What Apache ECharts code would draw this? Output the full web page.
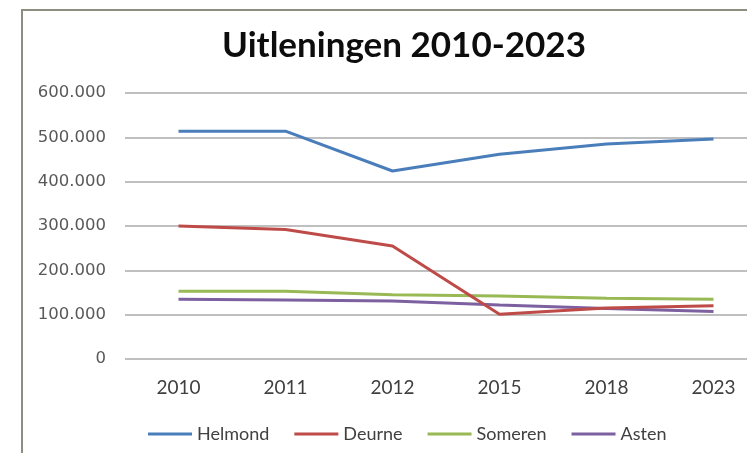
<!DOCTYPE html>
<html><head><meta charset="utf-8">
<script src="https://cdn.jsdelivr.net/npm/echarts@6/dist/echarts.min.js"></script>
<style>html,body{margin:0;padding:0;background:#fff}#c{width:747px;height:453px}</style>
</head><body><div id="c"></div>
<script>
const categories = ['2010','2011','2012','2015','2018','2023'];
const helmond = [514000, 514000, 424000, 462000, 485000, 496000];
const deurne  = [300000, 292000, 255000, 101000, 115000, 120000];
const someren = [153000, 153000, 145000, 142000, 137000, 135000];
const asten   = [135000, 133000, 131000, 122000, 114000, 107000];
const seriesNames = ['Helmond','Deurne','Someren','Asten'];
const colors = ['#4a7ebb','#be4b48','#98b954','#7d60a0'];
const yTicks = {min:0, max:600000, interval:100000};

const chart = echarts.init(document.getElementById('c'), null, {renderer:'canvas'});
const fmt = v => v === 0 ? '0' : (v/1000).toFixed(0) + '.000';
const data = [helmond, deurne, someren, asten];
chart.setOption({
  animation:false,
  backgroundColor:'#fff',
  color: colors,
  title:{text:'Uitleningen 2010-2023', left:399, top:23, textAlign:'center',
    textStyle:{fontFamily:'Lato', fontWeight:'bold', fontSize:35, color:'#0d0d0d'}},
  graphic:[{type:'rect', shape:{x:22, y:10, width:760, height:480},
    style:{fill:null, stroke:'#8a8f80', lineWidth:2}}],
  grid:{left:125, width:642, top:93, bottom:94, containLabel:false, outerBoundsMode:'none'},
  legend:{top:420, left:143, itemWidth:44, itemHeight:3, itemGap:25,
    icon:'rect', data:seriesNames,
    textStyle:{fontFamily:'Lato', fontSize:18, color:'#404040'}},
  xAxis:{type:'category', data:categories, boundaryGap:true,
    axisLine:{show:false}, axisTick:{show:false},
    axisLabel:{fontFamily:'Lato', fontSize:19, color:'#404040', margin:19}},
  yAxis:{type:'value', min:yTicks.min, max:yTicks.max, interval:yTicks.interval,
    axisLine:{show:false}, axisTick:{show:false},
    axisLabel:{formatter:fmt, fontFamily:'DejaVu Sans', fontSize:16.5, color:'#595959', margin:19},
    splitLine:{lineStyle:{color:'#bfbfbf', width:2}}},
  series: seriesNames.map((n,i)=>({name:n, type:'line', data:data[i], symbol:'none',
    lineStyle:{width:3, color:colors[i]}, z:10-i}))
});
</script></body></html>
